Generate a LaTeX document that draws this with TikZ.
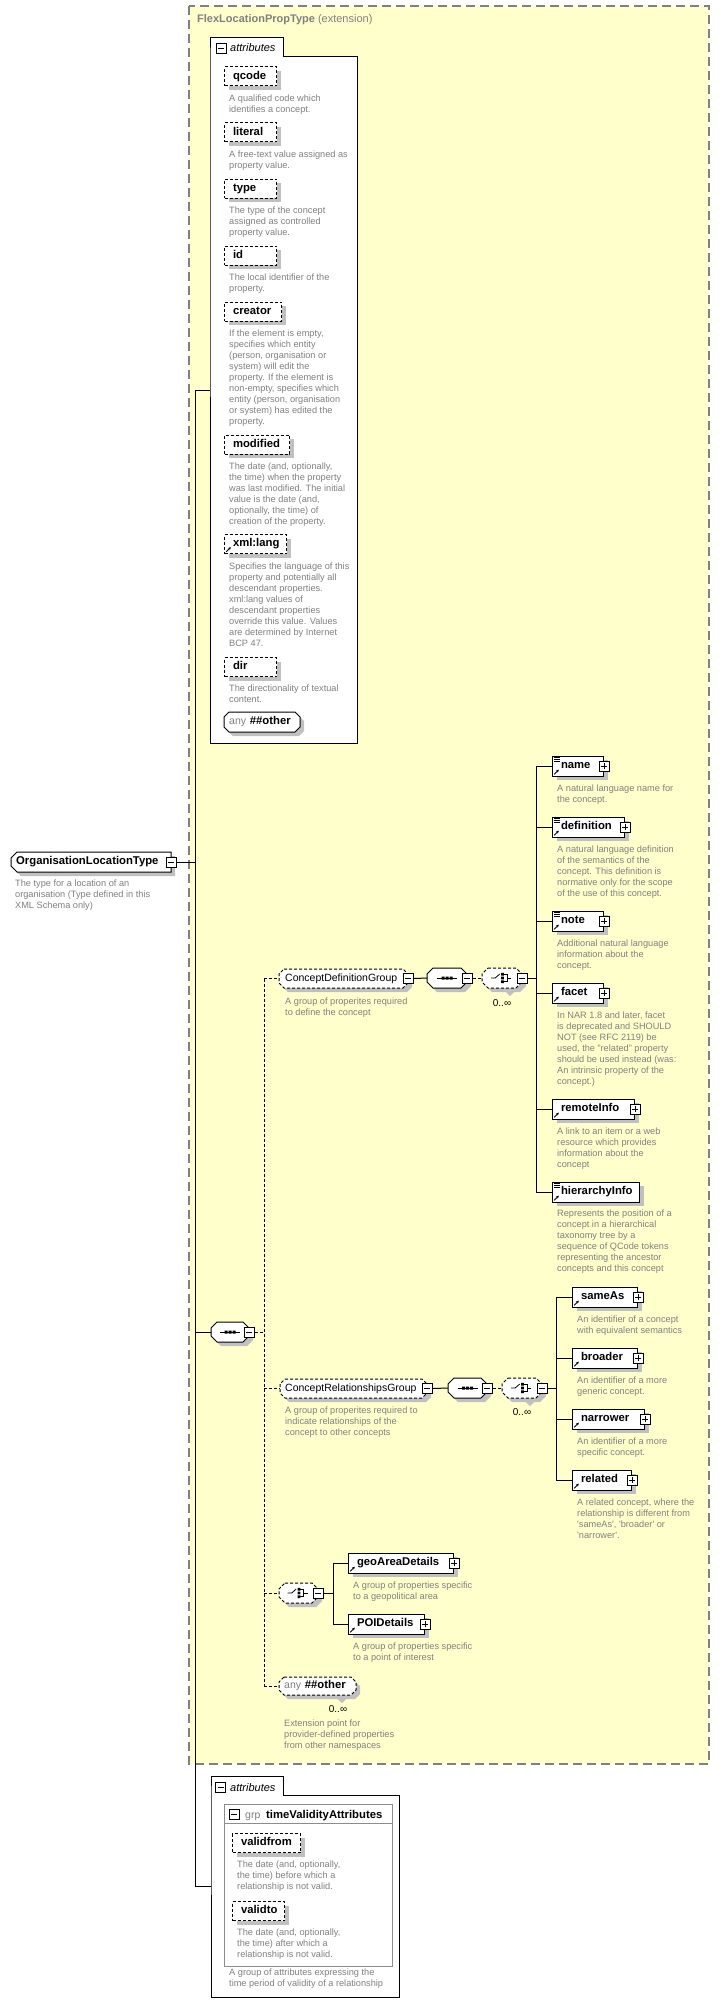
\documentclass[tikz,border=0pt]{standalone}
\usepackage{fontspec}
\setmainfont{Liberation Sans}
\usetikzlibrary{shadows,arrows.meta}
\definecolor{yel}{RGB}{255,255,204}
\definecolor{frame}{RGB}{128,128,128}
\definecolor{desc}{RGB}{128,128,128}
\definecolor{shad}{RGB}{192,192,192}
\definecolor{grpgray}{RGB}{140,140,140}
\newcommand\bfs{\fontsize{11.3}{13}\selectfont\bfseries}
\newcommand\rgs{\fontsize{10.5}{12}\selectfont}
\newcommand\octshape[6]{%
 \fill[shad,shift={(4,4)}] ({#1+#5},#2) -- ({#3-#5},#2) -- (#3,{#2+#5}) -- (#3,{#4-#5}) -- ({#3-#5},#4) -- ({#1+#5},#4) -- (#1,{#4-#5}) -- (#1,{#2+#5}) -- cycle;
 \draw[fill=white,line width=1pt,#6] ({#1+#5},#2) -- ({#3-#5},#2) -- (#3,{#2+#5}) -- (#3,{#4-#5}) -- ({#3-#5},#4) -- ({#1+#5},#4) -- (#1,{#4-#5}) -- (#1,{#2+#5}) -- cycle;}
\newcommand\refarrow[1]{\draw[line width=0.8pt,-{Stealth[length=2.8pt,width=2.8pt]}] ([shift={(2.2pt,2.2pt)}]#1.south west) -- ([shift={(6.8pt,6.8pt)}]#1.south west);}
\newcommand\doclines[1]{\draw[line width=0.6pt] ([shift={(2pt,-2pt)}]#1.north west) -- ++(5.5pt,0pt) ([shift={(2pt,-4pt)}]#1.north west) -- ++(5.5pt,0pt) ([shift={(2pt,-6pt)}]#1.north west) -- ++(5.5pt,0pt);}
\newcommand\seqsym[1]{\draw[line width=0.9pt] ([xshift=-10pt]#1.center) -- ([xshift=10pt]#1.center);
 \fill ([shift={(-5.5pt,-1.5pt)}]#1.center) rectangle ++(3pt,3pt) ([shift={(-1.5pt,-1.5pt)}]#1.center) rectangle ++(3pt,3pt) ([shift={(2.5pt,-1.5pt)}]#1.center) rectangle ++(3pt,3pt);}
\newcommand\chsym[1]{\draw[line width=0.8pt] ([xshift=-11pt]#1.center) -- ([xshift=-7pt]#1.center) -- ([shift={(-2.5pt,4pt)}]#1.center);
 \fill ([shift={(-1pt,2.5pt)}]#1.center) rectangle ++(2.6pt,2.6pt) ([shift={(-1pt,-1.3pt)}]#1.center) rectangle ++(2.6pt,2.6pt) ([shift={(-1pt,-5pt)}]#1.center) rectangle ++(2.6pt,2.6pt);
 \draw[line width=0.7pt] ([shift={(1.6pt,3.8pt)}]#1.center) -- ([shift={(5pt,3.8pt)}]#1.center) -- ([shift={(5pt,-3.8pt)}]#1.center) -- ([shift={(1.6pt,-3.8pt)}]#1.center) ([shift={(5pt,0pt)}]#1.center) -- ([shift={(9pt,0pt)}]#1.center);}
\tikzset{
 conn/.style={line width=1pt},
 optconn/.style={line width=1pt, dash pattern=on 3pt off 2pt},
 elem/.style={draw, fill=white, line width=1pt, drop shadow={shadow xshift=4pt,shadow yshift=-4pt,fill=shad,opacity=1}, anchor=west, minimum height=20pt, inner xsep=0pt, inner ysep=0pt, text width=#1, align=left, text height=8.3pt, text depth=2.4pt, font=\bfs},
 attr/.style={elem=#1, dash pattern=on 3pt off 2pt, minimum height=19pt},
 descr/.style={anchor=north west, yshift=7.5pt, align=left, inner sep=0pt, text=desc, font=\fontsize{9.2}{11}\selectfont, execute at begin node={\rule{0pt}{7.5pt}}},
 octtext/.style={inner sep=0pt, anchor=west, text width=#1, align=left, minimum height=19pt, text height=8.3pt, text depth=2.4pt},
 region/.style n args={2}{inner sep=0pt, minimum width=#1, minimum height=#2, anchor=west},
 pmbox/.style={draw, fill=white, line width=1pt, minimum size=10pt, inner sep=0pt, anchor=center},
 minus/.style={pmbox, path picture={\draw[line width=1pt] ([xshift=-3pt]path picture bounding box.center) -- ([xshift=3pt]path picture bounding box.center);}},
 plus/.style={pmbox, path picture={\draw[line width=1pt] ([xshift=-3pt]path picture bounding box.center) -- ([xshift=3pt]path picture bounding box.center) ([yshift=-3pt]path picture bounding box.center) -- ([yshift=3pt]path picture bounding box.center);}},
 card/.style={inner sep=0pt, font=\fontsize{10}{12}\selectfont},
}
\begin{document}
\begin{tikzpicture}[x=1pt,y=-1pt]
\useasboundingbox (0,0) rectangle (720,2015);
\fill[white] (0,0) rectangle (720,2015);
% extension area
\draw[fill=yel, draw=frame, line width=1.3pt, dash pattern=on 9pt off 5pt] (189,6) rectangle (709,1764);
\node[anchor=base west, inner sep=0pt, text=frame, font=\fontsize{11}{13}\selectfont] (title) at (197,23) {\textbf{FlexLocationPropType} (extension)};

% ---------- connectors ----------
\coordinate (spX) at (195,0);
\coordinate (dX) at (264,0);
\coordinate (busD) at (536,0);
\coordinate (busR) at (556,0);
\coordinate (busG) at (333,0);

% top attributes container
\draw[fill=white, line width=1pt] (210,57) -- (210,38) -- (283,38) -- (283,57) -- (357,57) -- (357,743) -- (210,743) -- cycle;
\node[inner sep=0pt, minimum width=147pt, minimum height=705pt, anchor=north west] (attrA) at (210,38) {};
\node[minus] (attrApm) at (221,49) {};
\node[anchor=base west, inner sep=0pt, font=\fontsize{11}{13}\selectfont\itshape] (attrAlbl) at (230,52) {attributes};

\node[attr=52pt] (qcode) at (224,76.5) {\hspace*{8.5pt}qcode};
\node[descr] (qcoded) at (229,102.3) {A qualified code which\\identifies a concept.};
\node[attr=52pt] (literal) at (224,132.5) {\hspace*{8.5pt}literal};
\node[descr] (literald) at (229,158.3) {A free-text value assigned as\\property value.};
\node[attr=52pt] (type) at (224,188.5) {\hspace*{8.5pt}type};
\node[descr] (typed) at (229,214.3) {The type of the concept\\assigned as controlled\\property value.};
\node[attr=52pt] (id) at (224,255.5) {\hspace*{8.5pt}id};
\node[descr] (idd) at (229,281.3) {The local identifier of the\\property.};
\node[attr=57pt] (creator) at (224,311.5) {\hspace*{8.5pt}creator};
\node[descr] (creatord) at (229,337.3) {If the element is empty,\\specifies which entity\\(person, organisation or\\system) will edit the\\property. If the element is\\non-empty, specifies which\\entity (person, organisation\\or system) has edited the\\property.};
\node[attr=65pt] (modified) at (224,444.5) {\hspace*{8.5pt}modified};
\node[descr] (modifiedd) at (229,470.3) {The date (and, optionally,\\the time) when the property\\was last modified. The initial\\value is the date (and,\\optionally, the time) of\\creation of the property.};
\node[attr=62pt] (xmllang) at (224,544) {\hspace*{8.5pt}xml:lang};
\refarrow{xmllang}
\node[descr] (xmllangd) at (229,570.3) {Specifies the language of this\\property and potentially all\\descendant properties.\\xml:lang values of\\descendant properties\\override this value. Values\\are determined by Internet\\BCP 47.};
\node[attr=52pt] (dir) at (224,667) {\hspace*{8.5pt}dir};
\node[descr] (dird) at (229,692.3) {The directionality of textual\\content.};
\octshape{224}{712}{300}{732}{5}{}
\node[octtext=76pt, font=\bfs] (anyA) at (224,722) {\hspace*{5pt}{\mdseries\rgs\color{desc}any} \#\#other};

% root
\fill[shad,shift={(4,4)}] (17,852) -- (171,852) -- (171,872) -- (17,872) -- (11,866) -- (11,858) -- cycle;
\draw[fill=white, line width=1pt] (17,852) -- (171,852) -- (171,872) -- (17,872) -- (11,866) -- (11,858) -- cycle;
\node[octtext=160pt, font=\bfs] (root) at (11,862) {\hspace*{5pt}OrganisationLocationType};
\node[minus] (rootpm) at (root.east) {};
\node[descr] (rootd) at (15,887) {The type for a location of an\\organisation (Type defined in this\\XML Schema only)};

% main sequence
\octshape{211}{1322}{249}{1342}{6}{}
\node[region={38pt}{20pt}] (seqM) at (211,1332) {};
\seqsym{seqM}
\node[minus] (seqMpm) at (seqM.east) {};

% bottom attributes container
\draw[fill=white, line width=1pt] (211,1795) -- (211,1776) -- (283,1776) -- (283,1795) -- (399,1795) -- (399,1997) -- (211,1997) -- cycle;
\node[inner sep=0pt, minimum width=188pt, minimum height=221pt, anchor=north west] (attrB) at (211,1776) {};
\node[minus] (attrBpm) at (220.5,1787.5) {};
\node[anchor=base west, inner sep=0pt, font=\fontsize{11}{13}\selectfont\itshape] (attrBlbl) at (230,1791) {attributes};
\draw[draw=grpgray, line width=1pt] (224,1804) rectangle (392,1966);
\draw[draw=grpgray, line width=1pt] (224,1823) -- (392,1823);
\node[minus] (grppm) at (234,1814.5) {};
\node[anchor=base west, inner sep=0pt, font=\rgs, text=desc] (grplbl) at (245,1818.5) {grp};
\node[anchor=base west, inner sep=0pt, font=\bfs] (grpname) at (266,1818.5) {timeValidityAttributes};
\node[attr=68pt] (validfrom) at (232,1843) {\hspace*{8.5pt}validfrom};
\node[descr] (validfromd) at (237,1868.3) {The date (and, optionally,\\the time) before which a\\relationship is not valid.};
\node[attr=52pt] (validto) at (232,1911) {\hspace*{8.5pt}validto};
\node[descr] (validtod) at (237,1936.3) {The date (and, optionally,\\the time) after which a\\relationship is not valid.};
\node[descr] (attrBd) at (229,1976.3) {A group of attributes expressing the\\time period of validity of a relationship};

% spine
\draw[conn] (rootpm.east) -- (rootpm.east -| spX);
\draw[conn] (attrA.west -| spX) -- (attrB.west -| spX);
\draw[conn] (attrA.west -| spX) -- (attrA.west);
\draw[conn] (seqM.west -| spX) -- (seqM.west);
\draw[conn] (attrB.west -| spX) -- (attrB.west);

% ConceptDefinitionGroup
\octshape{279}{969}{408}{988}{5}{dash pattern=on 3pt off 2pt}
\node[octtext=129pt, font=\rgs] (cdg) at (279,978.5) {\hspace*{6pt}ConceptDefinitionGroup};
\node[minus] (cdgpm) at (cdg.east) {};
\node[descr] (cdgd) at (285,1005.3) {A group of properites required\\to define the concept};
\octshape{427}{968}{467}{988}{6}{}
\node[region={40pt}{20pt}] (seqD) at (427,978) {};
\seqsym{seqD}
\node[minus] (seqDpm) at (seqD.east) {};
\fill[shad] (506,992) -- (514,992) -- (510,996) -- cycle;
\octshape{482}{968}{522}{988}{6}{dash pattern=on 3pt off 2pt}
\node[region={40pt}{20pt}] (chD) at (482,978) {};
\chsym{chD}
\node[minus] (chDpm) at (chD.east) {};
\node[card] (chDc) at (502,1003) {0..∞};
\draw[conn] (cdgpm.east) -- (seqD.west);
\draw[optconn] (seqDpm.east) -- (chD.west);
\draw[conn] (chDpm.east) -- (chDpm.east -| busD);

\node[elem=51pt] (name) at (552,766) {\hspace*{8.5pt}name};
\node[plus] (namepm) at (name.east) {};
\node[descr] (named) at (557,792.3) {A natural language name for\\the concept.};
\node[elem=72pt] (definition) at (552,827) {\hspace*{8.5pt}definition};
\node[plus] (definitionpm) at (definition.east) {};
\node[descr] (definitiond) at (557,853.3) {A natural language definition\\of the semantics of the\\concept. This definition is\\normative only for the scope\\of the use of this concept.};
\node[elem=51pt] (note) at (552,921) {\hspace*{8.5pt}note};
\node[plus] (notepm) at (note.east) {};
\node[descr] (noted) at (557,947.3) {Additional natural language\\information about the\\concept.};
\node[elem=51pt] (facet) at (552,993) {\hspace*{8.5pt}facet};
\node[plus] (facetpm) at (facet.east) {};
\node[descr] (facetd) at (557,1019.3) {In NAR 1.8 and later, facet\\is deprecated and SHOULD\\NOT (see RFC 2119) be\\used, the "related" property\\should be used instead (was:\\An intrinsic property of the\\concept.)};
\node[elem=82pt] (remoteInfo) at (552,1109) {\hspace*{8.5pt}remoteInfo};
\node[plus] (remoteInfopm) at (remoteInfo.east) {};
\node[descr] (remoteInfod) at (557,1135.3) {A link to an item or a web\\resource which provides\\information about the\\concept};
\node[elem=87pt] (hierarchyInfo) at (552,1192) {\hspace*{8.5pt}hierarchyInfo};
\node[descr] (hierarchyInfod) at (557,1217.3) {Represents the position of a\\concept in a hierarchical\\taxonomy tree by a\\sequence of QCode tokens\\representing the ancestor\\concepts and this concept};
\foreach \n in {name,definition,note,facet,remoteInfo,hierarchyInfo}{\refarrow{\n}}
\foreach \n in {name,definition,note,hierarchyInfo}{\doclines{\n}}
\draw[conn] (name.west -| busD) -- (hierarchyInfo.west -| busD);
\foreach \n in {name,definition,note,facet,remoteInfo,hierarchyInfo}{\draw[conn] (\n.west -| busD) -- (\n.west);}

% ConceptRelationshipsGroup
\octshape{280}{1379}{427}{1398}{5}{dash pattern=on 3pt off 2pt}
\node[octtext=147pt, font=\rgs] (crg) at (280,1388.5) {\hspace*{5pt}ConceptRelationshipsGroup};
\node[minus] (crgpm) at (crg.east) {};
\node[descr] (crgd) at (285,1414.3) {A group of properites required to\\indicate relationships of the\\concept to other concepts};
\octshape{448}{1378}{487}{1398}{6}{}
\node[region={39pt}{20pt}] (seqR) at (448,1388) {};
\seqsym{seqR}
\node[minus] (seqRpm) at (seqR.east) {};
\fill[shad] (526,1402) -- (534,1402) -- (530,1406) -- cycle;
\octshape{502}{1378}{542}{1398}{6}{dash pattern=on 3pt off 2pt}
\node[region={40pt}{20pt}] (chR) at (502,1388) {};
\chsym{chR}
\node[minus] (chRpm) at (chR.east) {};
\node[card] (chRc) at (522,1412) {0..∞};
\draw[conn] (crgpm.east) -- (seqR.west);
\draw[optconn] (seqRpm.east) -- (chR.west);
\draw[conn] (chRpm.east) -- (chRpm.east -| busR);

\node[elem=65pt] (sameAs) at (572,1297) {\hspace*{8.5pt}sameAs};
\node[plus] (sameAspm) at (sameAs.east) {};
\node[descr] (sameAsd) at (577,1323.3) {An identifier of a concept\\with equivalent semantics};
\node[elem=65pt] (broader) at (572,1358) {\hspace*{8.5pt}broader};
\node[plus] (broaderpm) at (broader.east) {};
\node[descr] (broaderd) at (577,1384.3) {An identifier of a more\\generic concept.};
\node[elem=72pt] (narrower) at (572,1419) {\hspace*{8.5pt}narrower};
\node[plus] (narrowerpm) at (narrower.east) {};
\node[descr] (narrowerd) at (577,1445.3) {An identifier of a more\\specific concept.};
\node[elem=59pt] (related) at (572,1480) {\hspace*{8.5pt}related};
\node[plus] (relatedpm) at (related.east) {};
\node[descr] (relatedd) at (577,1506.3) {A related concept, where the\\relationship is different from\\\textquotesingle sameAs\textquotesingle, \textquotesingle broader\textquotesingle\ or\\\textquotesingle narrower\textquotesingle.};
\foreach \n in {sameAs,broader,narrower,related}{\refarrow{\n}}
\draw[conn] (sameAs.west -| busR) -- (related.west -| busR);
\foreach \n in {sameAs,broader,narrower,related}{\draw[conn] (\n.west -| busR) -- (\n.west);}

% geo choice
\octshape{279}{1583}{318}{1603}{6}{dash pattern=on 3pt off 2pt}
\node[region={39pt}{20pt}] (chG) at (279,1593) {};
\chsym{chG}
\node[minus] (chGpm) at (chG.east) {};
\node[elem=105pt] (geoAreaDetails) at (348,1563) {\hspace*{8.5pt}geoAreaDetails};
\node[plus] (geoAreaDetailspm) at (geoAreaDetails.east) {};
\node[descr] (geoAreaDetailsd) at (353,1589.3) {A group of properties specific\\to a geopolitical area};
\node[elem=76pt] (POIDetails) at (348,1624) {\hspace*{8.5pt}POIDetails};
\node[plus] (POIDetailspm) at (POIDetails.east) {};
\node[descr] (POIDetailsd) at (353,1650.3) {A group of properties specific\\to a point of interest};
\foreach \n in {geoAreaDetails,POIDetails}{\refarrow{\n}}
\draw[conn] (chGpm.east) -- (chGpm.east -| busG);
\draw[conn] (geoAreaDetails.west -| busG) -- (POIDetails.west -| busG);
\foreach \n in {geoAreaDetails,POIDetails}{\draw[conn] (\n.west -| busG) -- (\n.west);}

% any ##other (main)
\fill[shad] (338,1699) -- (346,1699) -- (342,1703) -- cycle;
\octshape{279}{1677}{356}{1695}{5}{dash pattern=on 3pt off 2pt}
\node[octtext=77pt, font=\bfs, minimum height=18pt] (anyM) at (279,1686) {\hspace*{5pt}{\mdseries\rgs\color{desc}any} \#\#other};
\node[card] (anyMc) at (338,1709) {0..∞};
\node[descr] (anyMd) at (284,1727.3) {Extension point for\\provider-defined properties\\from other namespaces};

% dashed sequence branches
\draw[optconn] (seqMpm.east) -- (seqMpm.east -| dX);
\draw[optconn] (cdg.west -| dX) -- (anyM.west -| dX);
\foreach \n in {cdg,crg,chG,anyM}{\draw[optconn] (\n.west -| dX) -- (\n.west);}
\end{tikzpicture}
\end{document}
